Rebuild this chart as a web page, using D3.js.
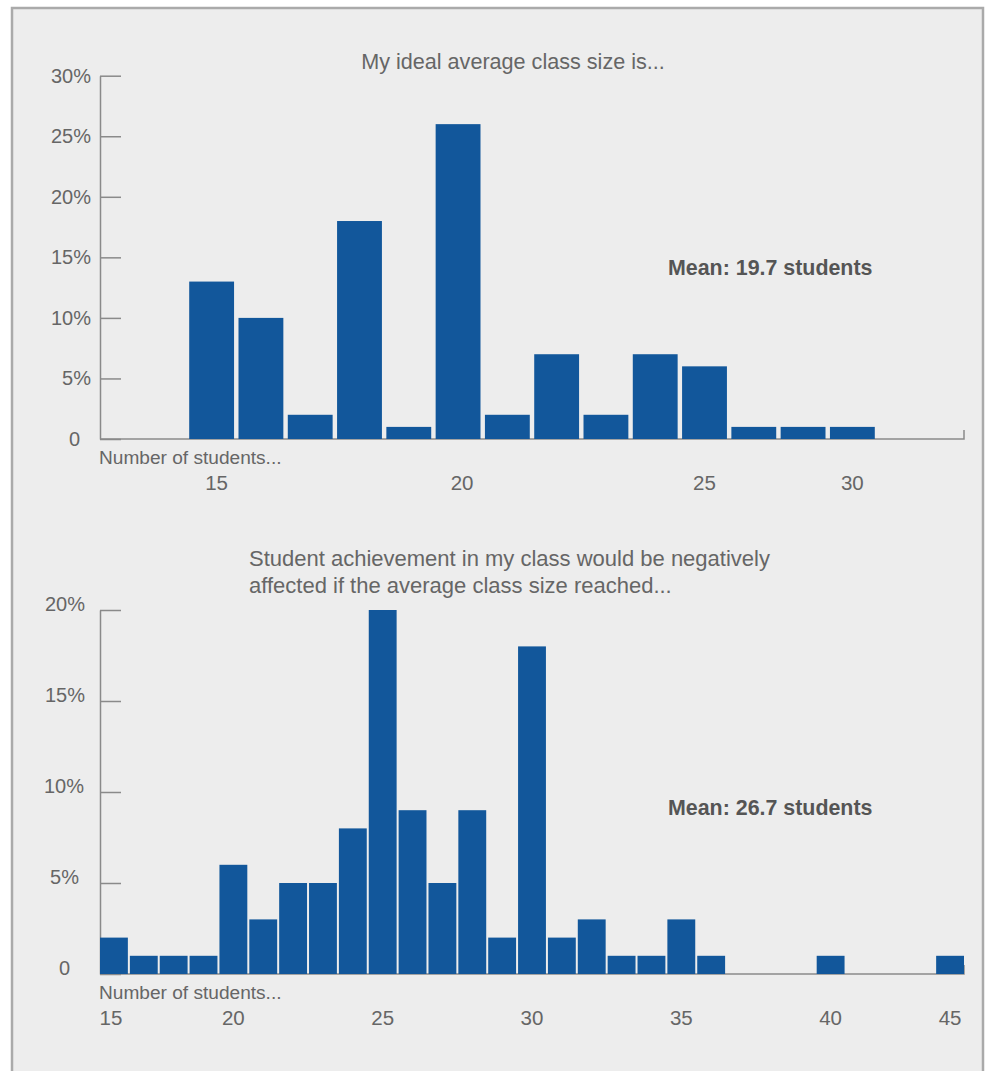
<!DOCTYPE html>
<html>
<head>
<meta charset="utf-8">
<script src="https://cdn.jsdelivr.net/npm/d3@7/dist/d3.min.js"></script>
<style>
  html, body { margin: 0; padding: 0; background: #ffffff; }
  svg { display: block; }
  text { font-family: "Liberation Sans", Arial, sans-serif; fill: #666666; }
</style>
</head>
<body>
<svg id="chart" width="989" height="1071"></svg>
<script>
// Ideal class size (share of teachers, %)
const idealSizes   = ["15","16","17","18","19","20","21","22","23","24","25","26","28","30"];
const idealShares  = [13, 10, 2, 18, 1, 26, 2, 7, 2, 7, 6, 1, 1, 1];
const idealTicks   = ["15","20","25","30"];
const idealYTicks  = [0, 5, 10, 15, 20, 25, 30];
const idealTitle   = ["My ideal average class size is..."];
const idealMean    = "Mean: 19.7 students";

// Class size at which achievement would suffer (share of teachers, %)
const limitSizes   = ["15","17","18","19","20","21","22","23","24","25","26","27","28","29","30",
                      "31","32","33","34","35","36","37","38","39","40","42","43","44","45"];
const limitShares  = [2, 1, 1, 1, 6, 3, 5, 5, 8, 20, 9, 5, 9, 2, 18,
                      2, 3, 1, 1, 3, 1, 0, 0, 0, 1, 0, 0, 0, 1];
const limitTicks   = ["15","20","25","30","35","40","45"];
const limitYTicks  = [0, 5, 10, 15, 20];
const limitTitle   = ["Student achievement in my class would be negatively",
                      "affected if the average class size reached..."];
const limitMean    = "Mean: 26.7 students";

const xAxisCaption = "Number of students...";

const BAR = "#12579b";
const AXIS = "#8a8a8a";

const svg = d3.select("#chart");

// panel
svg.append("rect")
  .attr("x", 12).attr("y", 8).attr("width", 971).attr("height", 1080)
  .attr("fill", "#ededed").attr("stroke", "#aaaaaa").attr("stroke-width", 2.5);

function histogram(cfg) {
  const g = svg.append("g");
  const x = d3.scaleBand()
    .domain(cfg.sizes)
    .range([cfg.left, cfg.right])
    .paddingInner(cfg.padInner)
    .paddingOuter(cfg.padOuter);
  const y = d3.scaleLinear()
    .domain([0, cfg.yMax])
    .range([cfg.bottom, cfg.top]);

  // baseline with a small end tick at the right
  g.append("path")
    .attr("d", `M${cfg.left},${cfg.bottom}H${cfg.right}V${cfg.bottom - 9}`)
    .attr("fill", "none").attr("stroke", AXIS).attr("stroke-width", 1.5);

  // y axis, ticks pointing into the plot
  const yAxis = d3.axisLeft(y)
    .tickValues(cfg.yTicks)
    .tickSize(-21)
    .tickSizeOuter(0)
    .tickPadding(cfg.labelPad)
    .tickFormat(d => d === 0 ? "0" : d + "%");
  const ya = g.append("g")
    .attr("transform", `translate(${cfg.left},0)`)
    .call(yAxis);
  ya.select(".domain").attr("stroke", AXIS).attr("stroke-width", 1.5);
  ya.selectAll(".tick line").attr("stroke", AXIS).attr("stroke-width", 1.5);
  ya.selectAll(".tick text")
    .attr("fill", "#666666")
    .style("font-family", "'Liberation Sans', Arial, sans-serif")
    .style("font-size", "20px")
    .attr("dx", d => -(cfg.labelShift[d] || 0))
    .attr("dy", cfg.labelDy);

  // bars
  g.selectAll("rect.bar")
    .data(cfg.sizes.map((s, i) => ({ s, v: cfg.shares[i] })).filter(d => d.v > 0))
    .join("rect")
    .attr("class", "bar")
    .attr("x", d => x(d.s))
    .attr("width", x.bandwidth())
    .attr("y", d => y(d.v))
    .attr("height", d => y(0) - y(d.v))
    .attr("fill", BAR);

  // x labels
  g.append("text")
    .attr("x", cfg.left - 1).attr("y", cfg.bottom + 25)
    .style("font-size", "19.1px")
    .text(xAxisCaption);
  g.selectAll("text.xt")
    .data(cfg.xTicks)
    .join("text")
    .attr("class", "xt")
    .attr("x", d => x(d) + x.bandwidth() / 2 + (cfg.xShift[d] || 0))
    .attr("y", cfg.bottom + 51)
    .attr("text-anchor", "middle")
    .style("font-size", "20.5px")
    .text(d => d);

  // title
  const t = g.append("text")
    .attr("x", cfg.titleX).attr("y", cfg.titleY)
    .attr("text-anchor", cfg.titleAnchor)
    .style("font-size", cfg.titleSize);
  t.selectAll("tspan")
    .data(cfg.title)
    .join("tspan")
    .attr("x", cfg.titleX)
    .attr("dy", (d, i) => i === 0 ? 0 : 27)
    .text(d => d);

  // mean
  g.append("text")
    .attr("x", 668).attr("y", cfg.meanY)
    .style("font-size", "21.4px")
    .style("font-weight", "bold")
    .style("fill", "#555555")
    .text(cfg.mean);
}

histogram({
  sizes: idealSizes, shares: idealShares, xTicks: idealTicks, yTicks: idealYTicks,
  yMax: 30, left: 100, right: 964, top: 75.7, bottom: 439,
  padInner: 0.09, padOuter: 1.81, labelPad: 9, labelDy: "0.32em",
  labelShift: { 0: 11 },
  xShift: { "15": 5, "20": 4 },
  title: idealTitle, titleX: 513, titleY: 69, titleAnchor: "middle", titleSize: "21.6px",
  mean: idealMean, meanY: 275
});

histogram({
  sizes: limitSizes, shares: limitShares, xTicks: limitTicks, yTicks: limitYTicks,
  yMax: 20, left: 100, right: 964, top: 610, bottom: 974,
  padInner: 0.067, padOuter: 0, labelPad: 15, labelDy: "0em",
  labelShift: { 0: 15, 5: 6, 10: 1 },
  xShift: { "15": -3 },
  title: limitTitle, titleX: 249, titleY: 566, titleAnchor: "start", titleSize: "22px",
  mean: limitMean, meanY: 815
});
</script>
</body>
</html>
